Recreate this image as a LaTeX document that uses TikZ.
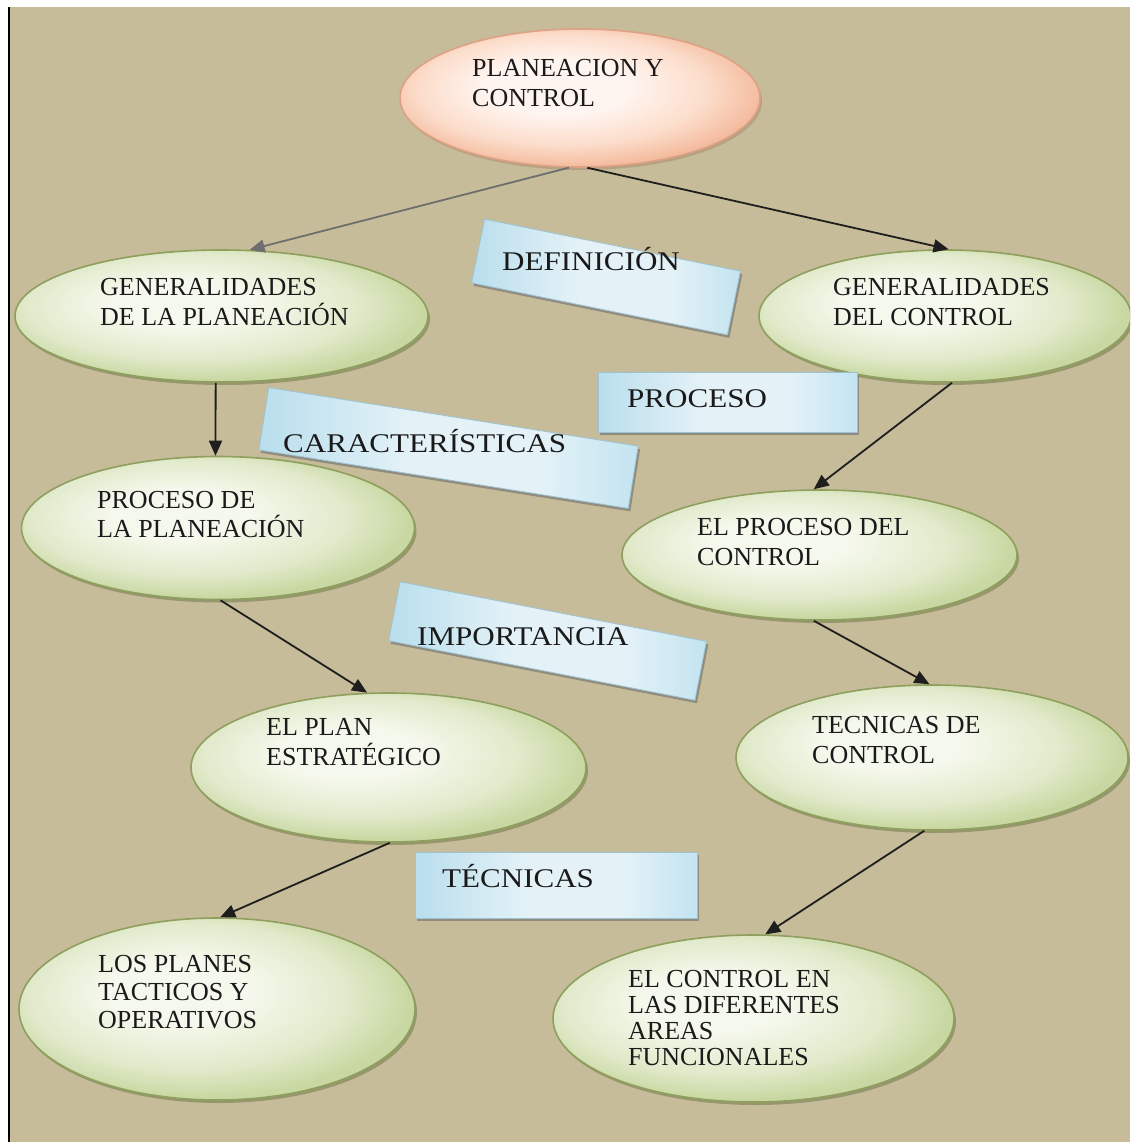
\documentclass[tikz,border=0pt]{standalone}
\usepackage{fontspec}
\setmainfont{Liberation Serif}
\newfontfamily\labfont[FakeStretch=1.15]{Liberation Serif}
\usetikzlibrary{shapes.geometric,shadows,arrows.meta}
\definecolor{bgtan}{HTML}{C6BC99}
\definecolor{gA}{HTML}{F5F8EC}
\definecolor{gB}{HTML}{E1EACB}
\definecolor{gC}{HTML}{C9D8A2}
\definecolor{eborder}{HTML}{8E9F5E}
\definecolor{eshadow}{HTML}{5E6B3A}
\definecolor{pA}{HTML}{FFF5F0}
\definecolor{pB}{HTML}{FCDDCB}
\definecolor{pC}{HTML}{F4BC9F}
\definecolor{pborder}{HTML}{DDA283}
\definecolor{bA}{HTML}{B9DEED}
\definecolor{bB}{HTML}{E4F2F7}
\definecolor{bC}{HTML}{C3E4F1}
\definecolor{bborder}{HTML}{9CC3D3}
\definecolor{txt}{HTML}{1A1A1A}
\definecolor{arrblack}{HTML}{1E1E1E}
\definecolor{arrgrey}{HTML}{6E6E6E}
\pgfdeclareradialshading{greensh}{\pgfpoint{-6bp}{6bp}}{color(0bp)=(gA); color(9bp)=(gA); color(20bp)=(gB); color(27bp)=(gC); color(50bp)=(gC)}
\pgfdeclareradialshading{peachsh}{\pgfpoint{-4bp}{5bp}}{color(0bp)=(pA); color(10bp)=(pA); color(20bp)=(pB); color(27bp)=(pC); color(50bp)=(pC)}
\pgfdeclarehorizontalshading{bluesh}{100bp}{color(0bp)=(bA); color(25bp)=(bA); color(45bp)=(bB); color(62bp)=(bB); color(75bp)=(bC); color(100bp)=(bC)}
\newcommand\txtlines[2]{\vtop{\baselineskip=#1pt\lineskiplimit=-100pt\lineskip=0pt\relax #2}}
\tikzset{
  ell/.style={ellipse, inner sep=0pt, draw=eborder, line width=1.6pt, shade, shading=greensh,
    drop shadow={shadow xshift=2pt, shadow yshift=-3pt, opacity=0.45, fill=eshadow}},
  pell/.style={ellipse, inner sep=0pt, draw=pborder, line width=1.6pt, shade, shading=peachsh,
    drop shadow={shadow xshift=2pt, shadow yshift=-3pt, opacity=0.35, fill=pborder!70!black}},
  lbox/.style={rectangle, inner sep=0pt, draw=bborder, line width=0.8pt, shade, shading=bluesh,
    drop shadow={shadow xshift=2pt, shadow yshift=-3pt, opacity=0.55, fill=black!60}},
  etxt/.style={inner sep=0pt, anchor=base west, text=txt, font=\fontsize{26}{30}\selectfont},
  ltxt/.style={inner sep=0pt, anchor=base west, text=txt, font=\labfont\fontsize{27}{32}\selectfont},
  conn/.style={draw=arrblack, line width=1.8pt, -{Triangle[length=15pt,width=13pt]}},
  conng/.style={conn, draw=arrgrey, fill=arrgrey},
}
\begin{document}
\begin{tikzpicture}[x=1pt,y=-1pt]
\useasboundingbox (0,0) rectangle (1130,1142);
\begin{scope}
\clip (0,0) rectangle (1130,1142);
\fill[white] (0,0) rectangle (1130,1142);
\fill[bgtan] (10,7.5) rectangle (1130,1142);
\fill[black] (7.5,7.5) rectangle (10.3,1142);

% ellipses
\node[pell, minimum width=360pt, minimum height=138pt] (e1) at (580,98) {};
\node[ell, minimum width=413pt, minimum height=132pt] (e2) at (221.5,316) {};
\node[ell, minimum width=372pt, minimum height=132pt] (e3) at (945,316) {};
\node[ell, minimum width=393pt, minimum height=143pt] (e4) at (218,528) {};
\node[ell, minimum width=395pt, minimum height=130pt] (e5) at (819.5,555) {};
\node[ell, minimum width=395pt, minimum height=149pt] (e6) at (388.5,767.5) {};
\node[ell, minimum width=392pt, minimum height=145pt] (e7) at (932,757.5) {};
\node[ell, minimum width=396pt, minimum height=182pt] (e8) at (217,1009) {};
\node[ell, minimum width=401pt, minimum height=167pt] (e9) at (753.5,1018.5) {};

% connectors
\draw[conng] (e1.-99) -- (e2.67);
\draw[conn] (e1.-84) -- (e3.87);
\draw[conn] (e2.-95) -- (e4.92);
\draw[conn] (e3.-84) -- (e5.95);
\draw[conn] (e4.-88) -- (e6.106);
\draw[conn] (e5.-95) -- (e7.92);
\draw[conn] (e6.-89) -- (e8.88);
\draw[conn] (e7.-96) -- (e9.82);

% label boxes
\node[lbox, minimum width=261pt, minimum height=65pt, rotate=-11.5] (l1) at (606,277) {};
\node[lbox, minimum width=374pt, minimum height=63pt, rotate=-9] (l2) at (448.5,448) {};
\node[lbox, minimum width=259pt, minimum height=60pt] (l3) at (727.5,402) {};
\node[lbox, minimum width=312pt, minimum height=60pt, rotate=-11] (l4) at (547.5,641) {};
\node[lbox, minimum width=282pt, minimum height=66pt] (l5) at (556,885) {};

% label texts
\node[ltxt] (l1t) at (502,270) {DEFINICIÓN};
\node[ltxt] (l2t) at (283,452) {CARACTERÍSTICAS};
\node[ltxt] (l3t) at (627,407) {PROCESO};
\node[ltxt] (l4t) at (417,645) {IMPORTANCIA};
\node[ltxt] (l5t) at (442,887) {TÉCNICAS};

% ellipse texts
\node[etxt] (e1t) at (472,77) {\txtlines{30}{\hbox{PLANEACION Y}\hbox{CONTROL}}};
\node[etxt] (e2t) at (100,295) {\txtlines{30}{\hbox{GENERALIDADES}\hbox{DE LA PLANEACIÓN}}};
\node[etxt] (e3t) at (833,295) {\txtlines{30}{\hbox{GENERALIDADES}\hbox{DEL CONTROL}}};
\node[etxt] (e4t) at (97,508) {\txtlines{29}{\hbox{PROCESO DE}\hbox{LA PLANEACIÓN}}};
\node[etxt] (e5t) at (697,535) {\txtlines{30}{\hbox{EL PROCESO DEL}\hbox{CONTROL}}};
\node[etxt] (e6t) at (266,735) {\txtlines{30}{\hbox{EL PLAN}\hbox{ESTRATÉGICO}}};
\node[etxt] (e7t) at (812,733) {\txtlines{30}{\hbox{TECNICAS DE}\hbox{CONTROL}}};
\node[etxt] (e8t) at (98,972) {\txtlines{28}{\hbox{LOS PLANES}\hbox{TACTICOS Y}\hbox{OPERATIVOS}}};
\node[etxt] (e9t) at (628,987) {\txtlines{26}{\hbox{EL CONTROL EN}\hbox{LAS DIFERENTES}\hbox{AREAS}\hbox{FUNCIONALES}}};
\end{scope}
\end{tikzpicture}
\end{document}
